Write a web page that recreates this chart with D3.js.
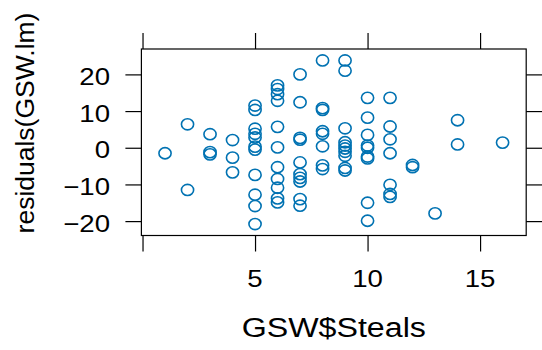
<!DOCTYPE html>
<html>
<head>
<meta charset="utf-8">
<script src="https://cdn.jsdelivr.net/npm/d3@7"></script>
<style>
  html, body { margin: 0; padding: 0; background: #ffffff; }
  svg { display: block; }
  text { font-family: "Liberation Sans", Arial, Helvetica, sans-serif; fill: #000; }
</style>
</head>
<body>
<svg id="chart" width="542" height="350"></svg>
<script>
// Steals per game and the matching residuals of the GSW linear model
const steals = [
  1,
  2, 2,
  3, 3, 3,
  4, 4, 4,
  5, 5, 5, 5, 5, 5, 5, 5, 5, 5, 5,
  6, 6, 6, 6, 6, 6, 6, 6, 6, 6, 6,
  7, 7, 7, 7, 7, 7, 7, 7, 7, 7,
  8, 8, 8, 8, 8, 8, 8, 8,
  9, 9, 9, 9, 9, 9, 9, 9, 9, 9,
  10, 10, 10, 10, 10, 10, 10, 10, 10,
  11, 11, 11, 11, 11, 11, 11,
  12, 12,
  13,
  14, 14,
  16
];
const residuals = [
  -1.5,
  6.4, -11.5,
  3.7, -1.2, -1.8,
  2.1, -2.7, -6.7,
  11.5, 10.3, 5.2, 3.8, 2.8, 0.3, -0.5, -7.4, -12.8, -15.9, -20.8,
  17.0, 16.0, 14.6, 12.8, 5.7, 0.1, -5.3, -8.5, -10.9, -13.8, -14.9,
  20.0, 12.4, 2.7, 2.2, -4.0, -7.2, -8.2, -9.2, -14.0, -15.8,
  23.8, 10.8, 10.3, 4.5, 3.8, 0.4, -4.8, -5.8,
  23.8, 21.0, 5.3, 1.5, 0.6, -0.2, -1.1, -2.2, -5.5, -6.2,
  13.6, 8.2, 3.5, 0.6, 0.0, -2.4, -2.9, -15.0, -19.9,
  13.6, 5.8, 2.3, -1.5, -10.1, -12.6, -13.4,
  -4.7, -5.3,
  -17.9,
  7.5, 0.9,
  1.4
];
const xTicks = [0, 5, 10, 15];
const xTickLabels = ["", "5", "10", "15"];
const yTicks = [-20, -10, 0, 10, 20];
const xTitle = "GSW$Steals";
const yTitle = "residuals(GSW.lm)";

const svg = d3.select("#chart");
const panel = { left: 141.4, right: 526.2, top: 49, bottom: 235.5 };
const tickLen = 16;
const textStretch = 1.15;   // glyphs are drawn a little wider than tall
const pointColor = "#0072B2";

// 7% padding around the data range on both axes
function padded(values) {
  const [lo, hi] = d3.extent(values);
  const pad = (hi - lo) * 0.07;
  return [lo - pad, hi + pad];
}

const x = d3.scaleLinear().domain(padded(steals)).range([panel.left, panel.right]);
const y = d3.scaleLinear().domain(padded(residuals)).range([panel.bottom, panel.top]);

// tick marks on all four sides (labels drawn separately)
const axisStyle = g => {
  g.select(".domain").remove();
  g.selectAll(".tick line").attr("stroke", "#000").attr("stroke-width", 1.2);
  g.selectAll(".tick text").remove();
};
svg.append("g").attr("transform", `translate(0,${panel.bottom})`)
  .call(d3.axisBottom(x).tickValues(xTicks).tickSize(tickLen)).call(axisStyle);
svg.append("g").attr("transform", `translate(0,${panel.top})`)
  .call(d3.axisTop(x).tickValues(xTicks).tickSize(tickLen)).call(axisStyle);
svg.append("g").attr("transform", `translate(${panel.left},0)`)
  .call(d3.axisLeft(y).tickValues(yTicks).tickSize(tickLen)).call(axisStyle);
svg.append("g").attr("transform", `translate(${panel.right},0)`)
  .call(d3.axisRight(y).tickValues(yTicks).tickSize(tickLen)).call(axisStyle);

// panel frame
svg.append("rect")
  .attr("x", panel.left).attr("y", panel.top)
  .attr("width", panel.right - panel.left).attr("height", panel.bottom - panel.top)
  .attr("fill", "none").attr("stroke", "#000").attr("stroke-width", 1.2);

// stretched text helper
function stretchedText(px, py, str, size, anchor) {
  svg.append("text")
    .attr("transform", `translate(${px},${py}) scale(${textStretch},1)`)
    .attr("text-anchor", anchor)
    .style("font-size", size + "px")
    .text(str);
}

const yFmt = d3.format("d");
xTicks.forEach((t, i) => stretchedText(x(t), 287, xTickLabels[i], 24, "middle"));
yTicks.forEach(t => stretchedText(110, y(t) + 10.5, yFmt(t), 24, "end"));

// axis titles
stretchedText((panel.left + panel.right) / 2, 337, xTitle, 28, "middle");
svg.append("text")
  .attr("transform", `translate(34,123) rotate(-90)`)
  .attr("text-anchor", "middle")
  .style("font-size", "26.5px")
  .text(yTitle);

// points
svg.append("g").selectAll("ellipse")
  .data(steals.map((s, i) => [s, residuals[i]]))
  .join("ellipse")
  .attr("cx", d => x(d[0]))
  .attr("cy", d => y(d[1]))
  .attr("rx", 6.1)
  .attr("ry", 5.6)
  .attr("fill", "none")
  .attr("stroke", pointColor)
  .attr("stroke-width", 1.6);
</script>
</body>
</html>
